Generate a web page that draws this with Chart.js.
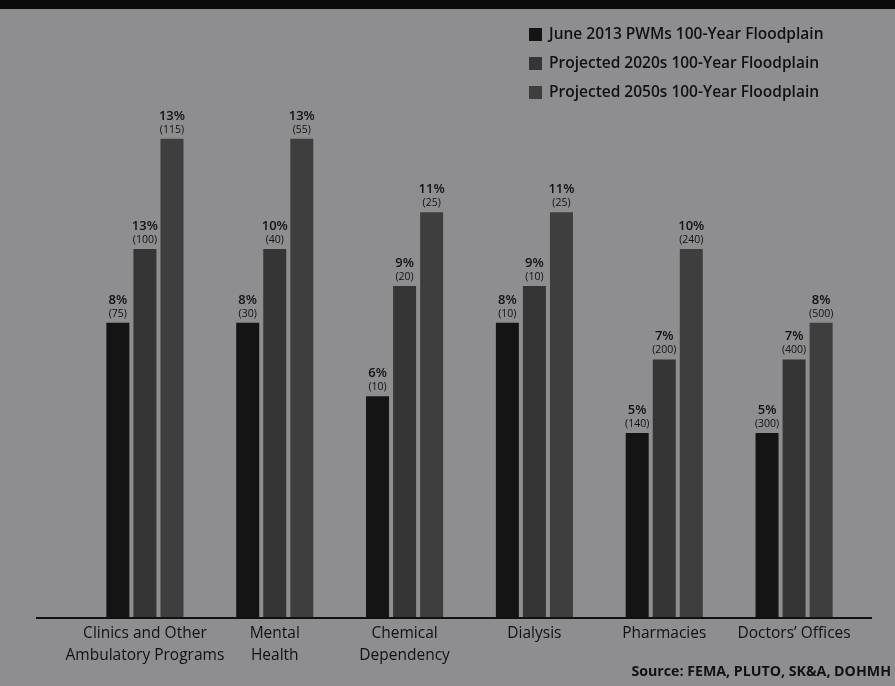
<!DOCTYPE html>
<html>
<head>
<meta charset="utf-8">
<script src="https://cdn.jsdelivr.net/npm/chart.js@4.4.1/dist/chart.umd.min.js"></script>
<style>
    html, body { margin: 0; padding: 0; background: #8e8e90; }
    #wrap { width: 895px; height: 686px; position: relative; }
</style>
</head>
<body>
<div id="wrap"><canvas id="chart" width="895" height="686"></canvas></div>
<script>
    // categories and values
    var categories = [
        ['Clinics and Other', 'Ambulatory Programs'],
        ['Mental', 'Health'],
        ['Chemical', 'Dependency'],
        'Dialysis',
        'Pharmacies',
        'Doctors\u2019 Offices'
    ];
    var seriesNames = [
        'June 2013 PWMs 100-Year Floodplain',
        'Projected 2020s 100-Year Floodplain',
        'Projected 2050s 100-Year Floodplain'
    ];
    // bar heights (percent) as drawn
    var june2013 = [8, 8, 6, 8, 5, 5];
    var proj2020s = [10, 10, 9, 9, 7, 7];
    var proj2050s = [13, 13, 11, 11, 10, 8];
    // printed labels above bars
    var june2013Pct = ['8%', '8%', '6%', '8%', '5%', '5%'];
    var proj2020sPct = ['13%', '10%', '9%', '9%', '7%', '7%'];
    var proj2050sPct = ['13%', '13%', '11%', '11%', '10%', '8%'];
    var june2013Count = [75, 30, 10, 10, 140, 300];
    var proj2020sCount = [100, 40, 20, 10, 200, 400];
    var proj2050sCount = [115, 55, 25, 25, 240, 500];
    var sourceText = 'Source: FEMA, PLUTO, SK&A, DOHMH';

    var colors = ['#141414', '#353536', '#3e3e3f'];
    var pctLabels = [june2013Pct, proj2020sPct, proj2050sPct];
    var countLabels = [june2013Count, proj2020sCount, proj2050sCount];
    var ink = '#111111';

    var decorPlugin = {
        id: 'decor',
        beforeDraw: function (chart) {
            var ctx = chart.ctx;
            ctx.save();
            ctx.fillStyle = '#8e8e90';
            ctx.fillRect(0, 0, chart.width, chart.height);
            ctx.fillStyle = '#0a0a0a';
            ctx.fillRect(0, 0, chart.width, 9);
            ctx.restore();
        },
        afterDatasetsDraw: function (chart) {
            var ctx = chart.ctx;
            var y0 = chart.scales.y.getPixelForValue(0);
            ctx.save();
            // baseline
            ctx.strokeStyle = ink;
            ctx.lineWidth = 2;
            ctx.beginPath();
            ctx.moveTo(36, y0 + 1);
            ctx.lineTo(872, y0 + 1);
            ctx.stroke();

            // labels above bars
            ctx.fillStyle = ink;
            ctx.textAlign = 'center';
            ctx.textBaseline = 'alphabetic';
            chart.data.datasets.forEach(function (ds, i) {
                chart.getDatasetMeta(i).data.forEach(function (bar, j) {
                    ctx.font = '10.5px "Open Sans"';
                    ctx.fillText('(' + countLabels[i][j] + ')', bar.x, bar.y - 6);
                    ctx.font = '600 13px "Open Sans"';
                    ctx.fillText(pctLabels[i][j], bar.x, bar.y - 19);
                });
            });

            // legend
            ctx.textAlign = 'left';
            ctx.textBaseline = 'middle';
            ctx.font = '600 15.5px "Open Sans"';
            chart.data.datasets.forEach(function (ds, i) {
                var y = 35 + i * 29;
                ctx.fillStyle = ds.backgroundColor;
                ctx.fillRect(529, y - 7, 13, 13);
                ctx.fillStyle = ink;
                ctx.fillText(ds.label, 549, y);
            });

            // source
            ctx.textAlign = 'right';
            ctx.font = 'bold 14.2px "Open Sans"';
            ctx.fillText(sourceText, 891, 672);
            ctx.restore();
        }
    };

    new Chart(document.getElementById('chart').getContext('2d'), {
        type: 'bar',
        data: {
            labels: categories,
            datasets: [
                { label: seriesNames[0], data: june2013, backgroundColor: colors[0] },
                { label: seriesNames[1], data: proj2020s, backgroundColor: colors[1] },
                { label: seriesNames[2], data: proj2050s, backgroundColor: colors[2] }
            ]
        },
        options: {
            responsive: false,
            animation: false,
            events: [],
            layout: { padding: { left: 80, right: 36, top: 10, bottom: 0 } },
            categoryPercentage: 0.625,
            barPercentage: 0.85,
            plugins: {
                legend: { display: false },
                tooltip: { enabled: false }
            },
            scales: {
                x: {
                    grid: { display: false, drawTicks: false },
                    border: { display: false },
                    ticks: {
                        color: ink,
                        padding: 6,
                        maxRotation: 0,
                        autoSkip: false,
                        font: { family: 'Open Sans', size: 15.5, lineHeight: 1.4 }
                    },
                    afterFit: function (s) { s.height = 69; }
                },
                y: {
                    display: false,
                    min: 0,
                    max: 16.5
                }
            }
        },
        plugins: [decorPlugin]
    });
</script>
</body>
</html>
